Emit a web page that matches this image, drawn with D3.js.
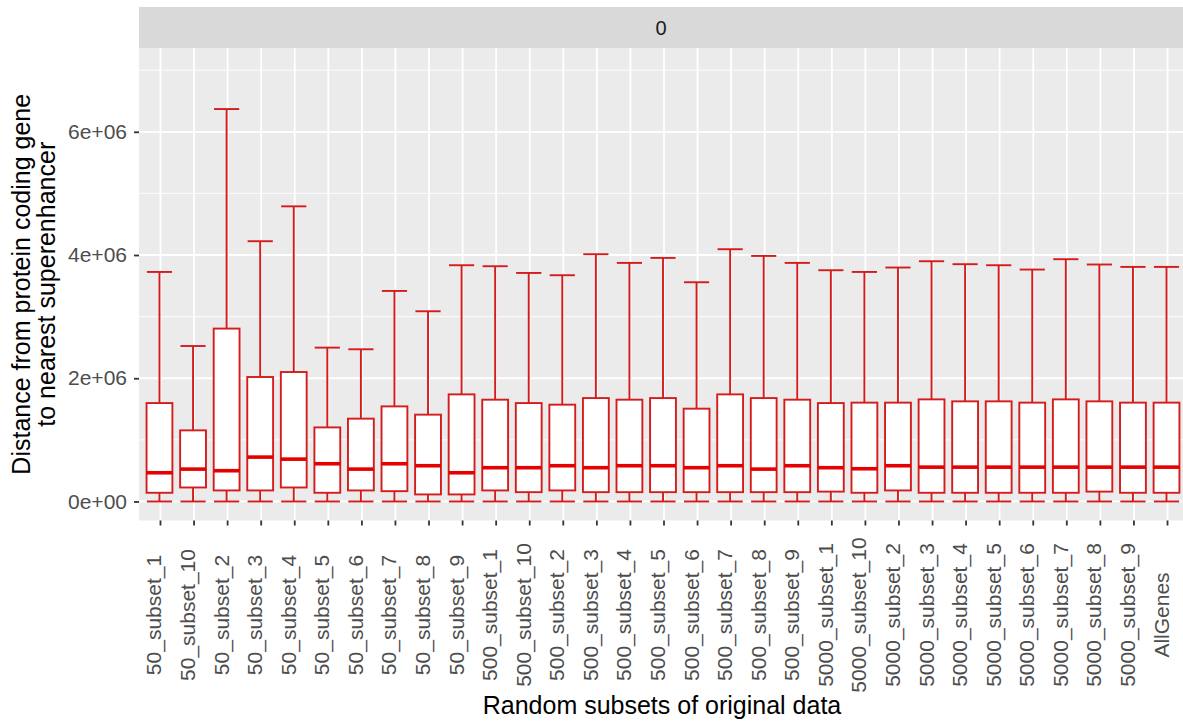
<!DOCTYPE html>
<html>
<head>
<meta charset="utf-8">
<script src="https://cdn.jsdelivr.net/npm/d3@7"></script>
<style>
  body { margin: 0; background: #fff; }
  text { font-family: "Liberation Sans", Arial, sans-serif; }
</style>
</head>
<body>
<div id="chart"></div>
<script>
// categories on the x axis
var categories = ["50_subset_1", "50_subset_10", "50_subset_2", "50_subset_3", "50_subset_4",
  "50_subset_5", "50_subset_6", "50_subset_7", "50_subset_8", "50_subset_9",
  "500_subset_1", "500_subset_10", "500_subset_2", "500_subset_3", "500_subset_4",
  "500_subset_5", "500_subset_6", "500_subset_7", "500_subset_8", "500_subset_9",
  "5000_subset_1", "5000_subset_10", "5000_subset_2", "5000_subset_3", "5000_subset_4",
  "5000_subset_5", "5000_subset_6", "5000_subset_7", "5000_subset_8", "5000_subset_9",
  "AllGenes"];

// box statistics
var whiskerLow = [0, 0, 0, 0, 0, 0, 0, 0, 0, 0,
  0, 0, 0, 0, 0, 0, 0, 0, 0, 0,
  0, 0, 0, 0, 0, 0, 0, 0, 0, 0, 0];
var q1 = [141000, 227000, 179000, 179000, 227000, 141000, 179000, 167000, 114000, 114000,
  179000, 151000, 179000, 151000, 151000, 151000, 151000, 151000, 151000, 151000,
  160000, 141000, 179000, 141000, 141000, 141000, 141000, 141000, 160000, 141000, 141000];
var medians = [466000, 525000, 499000, 720000, 687000, 612000, 525000, 612000, 580000, 466000,
  548000, 548000, 580000, 548000, 580000, 580000, 548000, 580000, 525000, 580000,
  548000, 531000, 580000, 557000, 557000, 557000, 557000, 557000, 557000, 557000, 557000];
var q3 = [1597000, 1154000, 2806000, 2020000, 2101000, 1202000, 1344000, 1543000, 1409000, 1738000,
  1652000, 1597000, 1571000, 1678000, 1652000, 1678000, 1506000, 1738000, 1678000, 1652000,
  1597000, 1604000, 1604000, 1657000, 1625000, 1625000, 1604000, 1657000, 1625000, 1604000, 1604000];
var whiskerHigh = [3725000, 2523000, 6369000, 4224000, 4790000, 2497000, 2470000, 3417000, 3087000, 3834000,
  3818000, 3709000, 3672000, 4013000, 3872000, 3953000, 3558000, 4094000, 3985000, 3872000,
  3753000, 3725000, 3797000, 3899000, 3851000, 3834000, 3764000, 3932000, 3846000, 3807000, 3807000];

var yTicks = [0, 2e6, 4e6, 6e6];
var yMinor = [1e6, 3e6, 5e6, 7e6];
var stripLabel = "0";

var W = 1183, H = 728;
var panel = {left: 139, right: 1189, top: 48, bottom: 520.5};
var strip = {top: 7, bottom: 48};
var lineColor = "#d41c1c";

var svg = d3.select("#chart")
  .append("svg")
  .attr("width", W)
  .attr("height", H);

var x = d3.scaleBand()
  .domain(categories)
  .range([panel.left, panel.right])
  .paddingInner(0)
  .paddingOuter(0.14);

var y = d3.scaleLinear()
  .domain([-309000, 7360000])
  .range([panel.bottom, panel.top]);

// strip
svg.append("rect")
  .attr("x", panel.left)
  .attr("y", strip.top)
  .attr("width", panel.right - panel.left)
  .attr("height", strip.bottom - strip.top)
  .style("fill", "#d9d9d9");
svg.append("text")
  .attr("x", (panel.left + panel.right) / 2 - 3)
  .attr("y", (strip.top + strip.bottom) / 2)
  .attr("dy", "0.36em")
  .attr("text-anchor", "middle")
  .style("font-size", "20px")
  .style("fill", "#1a1a1a")
  .text(stripLabel);

// panel background
svg.append("rect")
  .attr("x", panel.left)
  .attr("y", panel.top)
  .attr("width", panel.right - panel.left)
  .attr("height", panel.bottom - panel.top)
  .style("fill", "#ebebeb");

// grid lines
svg.append("g")
  .selectAll("line")
  .data(yMinor)
  .enter()
  .append("line")
  .attr("x1", panel.left)
  .attr("x2", panel.right)
  .attr("y1", function (d) { return y(d); })
  .attr("y2", function (d) { return y(d); })
  .style("stroke", "#fff")
  .style("stroke-width", 0.9);
svg.append("g")
  .selectAll("line")
  .data(yTicks)
  .enter()
  .append("line")
  .attr("x1", panel.left)
  .attr("x2", panel.right)
  .attr("y1", function (d) { return y(d); })
  .attr("y2", function (d) { return y(d); })
  .style("stroke", "#fff")
  .style("stroke-width", 1.8);
svg.append("g")
  .selectAll("line")
  .data(categories)
  .enter()
  .append("line")
  .attr("x1", function (d) { return x(d) + x.bandwidth() / 2; })
  .attr("x2", function (d) { return x(d) + x.bandwidth() / 2; })
  .attr("y1", panel.top)
  .attr("y2", panel.bottom)
  .style("stroke", "#fff")
  .style("stroke-width", 1.8);

// boxes
var boxW = x.bandwidth() * 0.77;
var capW = x.bandwidth() * 0.75;
var boxes = svg.append("g")
  .selectAll("g")
  .data(categories)
  .enter()
  .append("g")
  .attr("transform", function (d) { return "translate(" + (x(d) + x.bandwidth() / 2 - 1) + ",0)"; });

boxes.append("line")
  .attr("x1", 0).attr("x2", 0)
  .attr("y1", function (d, i) { return y(whiskerHigh[i]); })
  .attr("y2", function (d, i) { return y(q3[i]); })
  .style("stroke", lineColor).style("stroke-width", 1.9);
boxes.append("line")
  .attr("x1", 0).attr("x2", 0)
  .attr("y1", function (d, i) { return y(q1[i]); })
  .attr("y2", function (d, i) { return y(whiskerLow[i]); })
  .style("stroke", lineColor).style("stroke-width", 1.9);
boxes.append("line")
  .attr("x1", -capW / 2).attr("x2", capW / 2)
  .attr("y1", function (d, i) { return y(whiskerHigh[i]); })
  .attr("y2", function (d, i) { return y(whiskerHigh[i]); })
  .style("stroke", lineColor).style("stroke-width", 1.9);
boxes.append("line")
  .attr("x1", -capW / 2).attr("x2", capW / 2)
  .attr("y1", function (d, i) { return y(whiskerLow[i]); })
  .attr("y2", function (d, i) { return y(whiskerLow[i]); })
  .style("stroke", lineColor).style("stroke-width", 1.9);
boxes.append("rect")
  .attr("x", -boxW / 2)
  .attr("width", boxW)
  .attr("y", function (d, i) { return y(q3[i]); })
  .attr("height", function (d, i) { return y(q1[i]) - y(q3[i]); })
  .style("fill", "#fff")
  .style("stroke", lineColor)
  .style("stroke-width", 1.9);
boxes.append("line")
  .attr("x1", -boxW / 2).attr("x2", boxW / 2)
  .attr("y1", function (d, i) { return y(medians[i]); })
  .attr("y2", function (d, i) { return y(medians[i]); })
  .style("stroke", "#e60000").style("stroke-width", 3.6);

// y axis
var yAxis = svg.append("g")
  .attr("transform", "translate(" + panel.left + ",0)")
  .call(d3.axisLeft(y)
    .tickValues(yTicks)
    .tickSize(5)
    .tickPadding(7)
    .tickFormat(function (d) { return d === 0 ? "0e+00" : (d / 1e6) + "e+06"; }));
yAxis.select(".domain").remove();
yAxis.selectAll(".tick line").style("stroke", "#333").style("stroke-width", 1.8);
yAxis.selectAll(".tick text")
  .style("font-size", "21px")
  .style("fill", "#4d4d4d")
  .style("font-family", "Liberation Sans, Arial, sans-serif");

// x axis
var xAxis = svg.append("g")
  .attr("transform", "translate(0," + panel.bottom + ")")
  .call(d3.axisBottom(x).tickSize(5).tickSizeOuter(0));
xAxis.select(".domain").remove();
xAxis.selectAll(".tick line").style("stroke", "#333").style("stroke-width", 1.8);
xAxis.selectAll(".tick text")
  .attr("transform", "translate(1," + (615 - panel.bottom) + ") rotate(-90)")
  .attr("x", 0)
  .attr("y", 0)
  .attr("dy", 0)
  .attr("text-anchor", "middle")
  .style("font-size", "21px")
  .style("fill", "#4d4d4d")
  .style("font-family", "Liberation Sans, Arial, sans-serif");

// axis titles
svg.append("text")
  .attr("x", (panel.left + panel.right) / 2 - 2)
  .attr("y", 714)
  .attr("text-anchor", "middle")
  .style("font-size", "25px")
  .style("fill", "#000")
  .text("Random subsets of original data");

var yTitle = svg.append("text")
  .attr("transform", "translate(0," + ((panel.top + panel.bottom) / 2) + ") rotate(-90)")
  .attr("text-anchor", "middle")
  .style("font-size", "25px")
  .style("fill", "#000");
yTitle.append("tspan").attr("x", 0).attr("y", 30).text("Distance from protein coding gene");
yTitle.append("tspan").attr("x", 0).attr("y", 55).text("to nearest superenhancer");
</script>
</body>
</html>
